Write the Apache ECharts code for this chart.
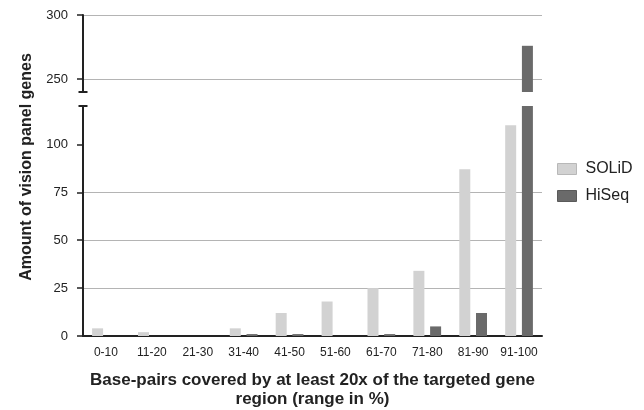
<!DOCTYPE html>
<html>
<head>
<meta charset="utf-8">
<script src="https://cdn.jsdelivr.net/npm/echarts@6/dist/echarts.min.js"></script>
<style>
html,body{margin:0;padding:0;background:#fff;}
#chart{width:644px;height:410px;}
</style>
</head>
<body>
<div id="chart"></div>
<script>
const categories = ['0-10','11-20','21-30','31-40','41-50','51-60','61-70','71-80','81-90','91-100'];
const solidValues = [4, 2, 0, 4, 12, 18, 25, 34, 87, 110];
const hiseqValues = [0, 0, 0, 1, 1, 0, 1, 5, 12, 276];
const lowerTicks = [0, 25, 50, 75, 100];
const upperTicks = [250, 300];
const lowerRange = [0, 120];
const upperRange = [240, 300];

const FONT = '"Liberation Sans", Arial, sans-serif';
const AXIS = '#222';
const GRIDC = '#b4b4b4';
const C_SOLID = '#d2d2d2';
const C_HISEQ = '#6a6a6a';

function upperData(arr){ return arr.map(v => v >= upperRange[0] ? v : '-'); }

const chart = echarts.init(document.getElementById('chart'), null, {renderer:'canvas'});
const barCommon = {type:'bar', barWidth: 11, barGap: '52%', clip: true, silent: true};

chart.setOption({
  animation: false,
  backgroundColor: '#fff',
  textStyle: {fontFamily: FONT},
  grid: [
    {left: 83, right: 102, top: 15, height: 77, containLabel: false, outerBoundsMode: 'none'},
    {left: 83, right: 102, top: 106, bottom: 74, containLabel: false, outerBoundsMode: 'none'}
  ],
  legend: {
    orient: 'vertical', left: 557, top: 161, padding: 0, itemWidth: 19, itemHeight: 11, itemGap: 11,
    icon: 'rect',
    textStyle: {fontFamily: FONT, fontSize: 16, color: '#222', padding: [0,0,0,4]},
    data: [
      {name: 'SOLiD', itemStyle: {color: C_SOLID, borderColor: '#b8b8b8', borderWidth: 1}},
      {name: 'HiSeq', itemStyle: {color: C_HISEQ, borderColor: '#5a5a5a', borderWidth: 1}}
    ]
  },
  xAxis: [
    {gridIndex: 0, type: 'category', data: categories, show: false},
    {gridIndex: 1, type: 'category', data: categories,
      axisLine: {lineStyle: {color: AXIS, width: 2}},
      axisTick: {show: false},
      axisLabel: {fontFamily: FONT, fontSize: 12, color: '#222', margin: 11, interval: 0},
      name: 'Base-pairs covered by at least 20x of the targeted gene\nregion (range in %)',
      nameLocation: 'middle', nameGap: 35,
      nameTextStyle: {fontFamily: FONT, fontSize: 17, fontWeight: 'bold', color: '#222', lineHeight: 19}
    }
  ],
  yAxis: [
    {gridIndex: 0, type: 'value', min: upperRange[0], max: upperRange[1], interval: 10,
      axisLine: {show: true, lineStyle: {color: AXIS, width: 2}, symbol: ['rect','none'], symbolSize: [9, 2]},
      axisTick: {show: true, length: 6, lineStyle: {color: AXIS, width: 1.5}, customValues: upperTicks},
      axisLabel: {fontFamily: FONT, fontSize: 13, color: '#222', margin: 15, customValues: upperTicks},
      splitLine: {show: true, lineStyle: {color: GRIDC, width: 1}}
    },
    {gridIndex: 1, type: 'value', min: lowerRange[0], max: lowerRange[1], interval: 25,
      axisLine: {show: true, lineStyle: {color: AXIS, width: 2}, symbol: ['none','rect'], symbolSize: [9, 2]},
      axisTick: {show: true, length: 6, lineStyle: {color: AXIS, width: 1.5}, customValues: lowerTicks},
      axisLabel: {fontFamily: FONT, fontSize: 13, color: '#222', margin: 15, customValues: lowerTicks},
      splitLine: {show: true, showMaxLine: false, lineStyle: {color: GRIDC, width: 1}}
    }
  ],
  graphic: [{
    type: 'text', x: 27, y: 167, rotation: Math.PI/2,
    style: {text: 'Amount of vision panel genes', font: 'bold 16px ' + FONT, fill: '#222',
      align: 'center', verticalAlign: 'middle'}
  }],
  series: [
    Object.assign({}, barCommon, {name: 'SOLiD', xAxisIndex: 0, yAxisIndex: 0, data: upperData(solidValues), itemStyle: {color: C_SOLID}}),
    Object.assign({}, barCommon, {name: 'HiSeq', xAxisIndex: 0, yAxisIndex: 0, data: upperData(hiseqValues), itemStyle: {color: C_HISEQ}}),
    Object.assign({}, barCommon, {name: 'SOLiD', xAxisIndex: 1, yAxisIndex: 1, data: solidValues, itemStyle: {color: C_SOLID}}),
    Object.assign({}, barCommon, {name: 'HiSeq', xAxisIndex: 1, yAxisIndex: 1, data: hiseqValues, itemStyle: {color: C_HISEQ}})
  ]
});
</script>
</body>
</html>
